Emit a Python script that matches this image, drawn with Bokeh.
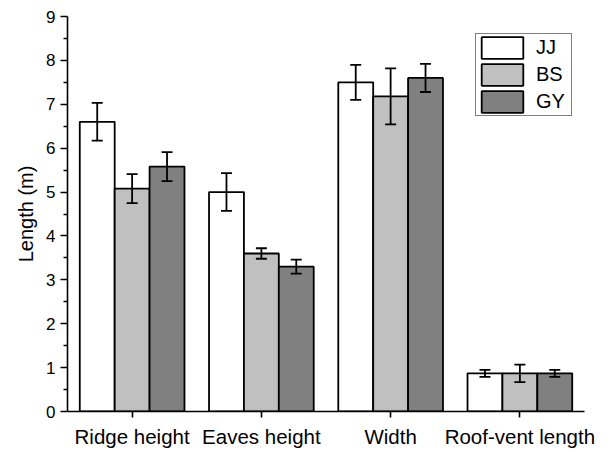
from bokeh.plotting import figure
from bokeh.models import (ColumnDataSource, Whisker, TeeHead, FixedTicker,
                          Legend, LegendItem, Range1d)
from bokeh.transform import dodge
from bokeh.embed import file_html
from bokeh.resources import INLINE

categories = ["Ridge height", "Eaves height", "Width", "Roof-vent length"]
series = ["JJ", "BS", "GY"]
jj = [6.6, 5.0, 7.5, 0.87]
jj_err = [0.43, 0.43, 0.40, 0.08]
bs = [5.08, 3.6, 7.18, 0.87]
bs_err = [0.33, 0.12, 0.64, 0.20]
gy = [5.58, 3.3, 7.6, 0.87]
gy_err = [0.33, 0.16, 0.32, 0.08]
colors = ["#ffffff", "#c0c0c0", "#808080"]
y_ticks = [0, 1, 2, 3, 4, 5, 6, 7, 8, 9]

FONT = "Liberation Sans"
BAR_W = 0.27

xpos = list(range(1, len(categories) + 1))
data = dict(x=xpos)
for name, vals, errs in zip(series, [jj, bs, gy], [jj_err, bs_err, gy_err]):
    data[name] = vals
    data[name + "_lo"] = [v - e for v, e in zip(vals, errs)]
    data[name + "_hi"] = [v + e for v, e in zip(vals, errs)]
source = ColumnDataSource(data)

p = figure(width=610, height=450, output_backend="svg", toolbar_location=None,
           x_range=Range1d(0.5, 4.5), y_range=Range1d(0, 9),
           min_border_left=67, min_border_right=26, min_border_top=16,
           min_border_bottom=38)
p.outline_line_color = None
p.xgrid.visible = False
p.ygrid.visible = False
p.background_fill_color = "white"
p.border_fill_color = "white"

offsets = [-BAR_W, 0.0, BAR_W]
items = []
for name, col, off in zip(series, colors, offsets):
    r = p.vbar(x=dodge("x", off), top=name, width=BAR_W, source=source,
               fill_color=col, line_color="black", line_width=1.8)
    items.append(LegendItem(label=name, renderers=[r]))
    w = Whisker(base=dodge("x", off), lower=name + "_lo", upper=name + "_hi",
                source=source, line_color="black", line_width=1.8,
                level="overlay",
                upper_head=TeeHead(size=11, line_color="black", line_width=1.8),
                lower_head=TeeHead(size=11, line_color="black", line_width=1.8))
    p.add_layout(w)

legend = Legend(items=items, location=(408, 295), orientation="vertical",
                padding=0, spacing=0, margin=0, glyph_height=27, glyph_width=52,
                label_standoff=8, label_width=35, label_height=27,
                label_text_font=FONT, label_text_font_size="20px",
                label_text_color="black",
                border_line_color="black", border_line_width=1,
                background_fill_color="white", background_fill_alpha=1)
p.add_layout(legend, "center")

# x axis
p.xaxis.ticker = FixedTicker(ticks=xpos)
p.xaxis.major_label_overrides = {i: c for i, c in zip(xpos, categories)}
p.xaxis.minor_tick_line_color = None
p.xaxis.major_tick_out = 6
p.xaxis.major_tick_in = 0
p.xaxis.major_label_standoff = 7
p.xaxis.major_label_text_font = FONT
p.xaxis.major_label_text_font_size = "20.5px"
p.xaxis.major_label_text_color = "black"
p.xaxis.axis_line_width = 1.6
p.xaxis.major_tick_line_width = 1.6

# y axis
p.yaxis.ticker = FixedTicker(ticks=y_ticks,
                             minor_ticks=[t + 0.5 for t in y_ticks[:-1]])
p.yaxis.major_tick_out = 7
p.yaxis.major_tick_in = 0
p.yaxis.minor_tick_out = 4
p.yaxis.minor_tick_in = 0
p.yaxis.major_label_standoff = 5
p.yaxis.major_label_text_font = FONT
p.yaxis.major_label_text_font_size = "17px"
p.yaxis.major_label_text_color = "black"
p.yaxis.axis_label = "Length (m)"
p.yaxis.axis_label_text_font = FONT
p.yaxis.axis_label_text_font_size = "20px"
p.yaxis.axis_label_text_font_style = "normal"
p.yaxis.axis_label_text_color = "black"
p.yaxis.axis_label_standoff = 6
p.yaxis.axis_line_width = 1.6
p.yaxis.major_tick_line_width = 1.6
p.yaxis.minor_tick_line_width = 1.6

open("out.html", "w").write(file_html(p, INLINE))
